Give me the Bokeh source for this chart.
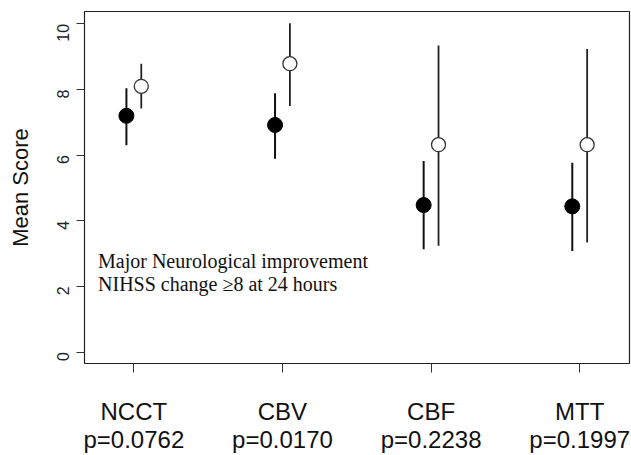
import math
from bokeh.plotting import figure
from bokeh.models import FixedTicker, Range1d, Label
from bokeh.embed import file_html
from bokeh.resources import INLINE

# ---- data ----
categories = ["NCCT", "CBV", "CBF", "MTT"]
p_values = ["p=0.0762", "p=0.0170", "p=0.2238", "p=0.1997"]
filled_mean = [7.20, 6.92, 4.48, 4.44]
filled_low = [6.30, 5.89, 3.13, 3.08]
filled_high = [8.04, 7.89, 5.82, 5.77]
open_mean = [8.10, 8.79, 6.32, 6.32]
open_low = [7.42, 7.50, 3.24, 3.34]
open_high = [8.79, 10.02, 9.34, 9.24]
y_ticks = [0, 2, 4, 6, 8, 10]
note_lines = ["Major Neurological improvement", "NIHSS change \u22658 at 24 hours"]

pos = list(range(1, len(categories) + 1))
dx = 0.05
x_filled = [x - dx for x in pos]
x_open = [x + dx for x in pos]

p = figure(width=631, height=455, output_backend="svg", toolbar_location=None,
           x_range=Range1d(0.668, 4.335), y_range=Range1d(-0.35, 10.38),
           min_border_left=84, min_border_right=2, min_border_top=11, min_border_bottom=87)

p.background_fill_color = "white"
p.border_fill_color = "white"
p.outline_line_color = "#222222"
p.outline_line_width = 1.2
p.xgrid.visible = False
p.ygrid.visible = False

# error bars
p.segment(x0=x_filled, y0=filled_low, x1=x_filled, y1=filled_high,
          line_color="#111111", line_width=2)
p.segment(x0=x_open, y0=open_low, x1=x_open, y1=open_high,
          line_color="#222222", line_width=1.8)
# points
p.scatter(x=x_filled, y=filled_mean, marker="circle", size=15,
          fill_color="black", line_color="black")
p.scatter(x=x_open, y=open_mean, marker="circle", size=14,
          fill_color="white", line_color="#333333", line_width=1.3)

# annotation text
for line, yv in zip(note_lines, [2.76, 2.07]):
    p.add_layout(Label(x=0.759, y=yv, text=line, text_font="Liberation Serif",
                       text_font_size="20px", text_baseline="middle",
                       text_align="left", text_color="#111111"))

# x axis
xa = p.xaxis[0]
xa.ticker = FixedTicker(ticks=pos)
xa.major_label_overrides = {k: f"{c}\n{pv}" for k, c, pv in zip(pos, categories, p_values)}
xa.major_label_text_font = "Liberation Sans"
xa.major_label_text_font_size = "24px"
xa.major_label_text_color = "#111111"
xa.major_label_text_line_height = 1.04
xa.major_label_standoff = 25
xa.axis_line_color = None
xa.major_tick_out = 9
xa.major_tick_in = 0
xa.major_tick_line_color = "#333333"
xa.minor_tick_line_color = None

# y axis
ya = p.yaxis[0]
ya.ticker = FixedTicker(ticks=y_ticks)
ya.major_label_orientation = math.pi / 2
ya.major_label_text_font = "Liberation Sans"
ya.major_label_text_font_size = "16px"
ya.major_label_text_color = "#222222"
ya.major_label_standoff = 13
ya.axis_line_color = None
ya.major_tick_out = 8
ya.major_tick_in = 0
ya.major_tick_line_color = "#333333"
ya.minor_tick_line_color = None
ya.axis_label = "Mean Score"
ya.axis_label_text_font = "Liberation Sans"
ya.axis_label_text_font_style = "normal"
ya.axis_label_text_font_size = "22px"
ya.axis_label_text_color = "#111111"
ya.axis_label_standoff = 16

open("out.html", "w").write(file_html(p, INLINE))
